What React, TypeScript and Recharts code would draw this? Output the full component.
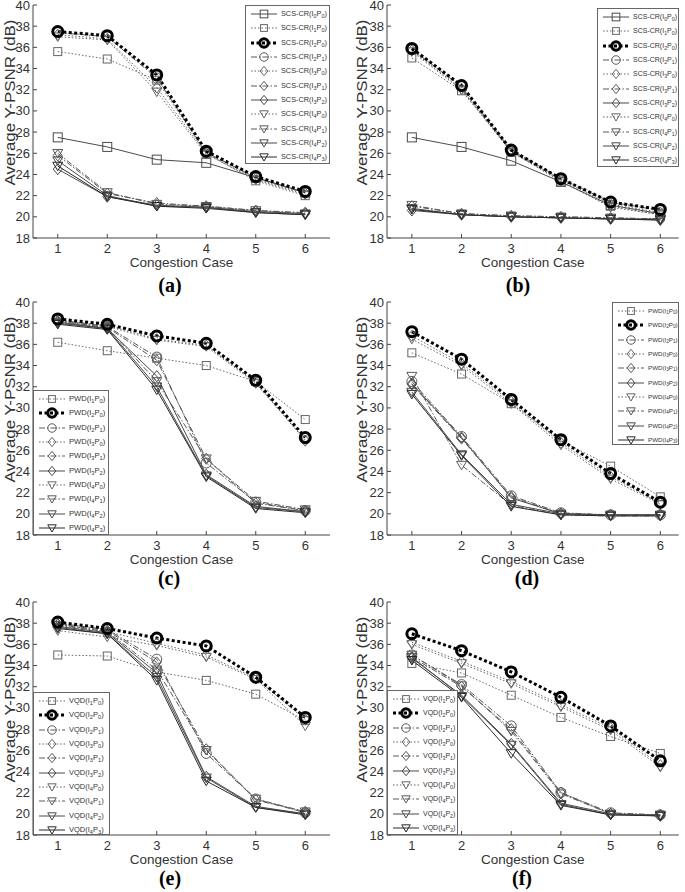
import React from 'react';
import { LineChart, Line, XAxis, YAxis, Legend, Label } from 'recharts';

const SANS = '"Liberation Sans", Arial, Helvetica, sans-serif';
const SERIF = '"Liberation Serif", "Times New Roman", serif';
const AXIS = '#444';
const TEXT = '#333';

const CASES = [1, 2, 3, 4, 5, 6];
const Y_TICKS = [18, 20, 22, 24, 26, 28, 30, 32, 34, 36, 38, 40];
const X_TITLE = 'Congestion Case';
const Y_TITLE = 'Average Y-PSNR (dB)';
const KEYS_SCS = ['I0P0', 'I1P0', 'I2P0', 'I2P1', 'I3P0', 'I3P1', 'I3P2', 'I4P0', 'I4P1', 'I4P2', 'I4P3'];
const KEYS_10 = ['I1P0', 'I2P0', 'I2P1', 'I3P0', 'I3P1', 'I3P2', 'I4P0', 'I4P1', 'I4P2', 'I4P3'];

// (a) SCS-CR
const a_I0P0 = [27.5, 26.6, 25.4, 25.1, 23.7, 22.3];
const a_I1P0 = [35.6, 34.9, 32.9, 26.0, 23.4, 22.0];
const a_I2P0 = [37.5, 37.1, 33.4, 26.2, 23.8, 22.4];
const a_I2P1 = [37.4, 37.0, 33.1, 26.1, 23.7, 22.3];
const a_I3P0 = [37.2, 36.8, 32.2, 26.0, 23.6, 22.2];
const a_I3P1 = [25.8, 22.2, 21.3, 21.0, 20.6, 20.4];
const a_I3P2 = [24.5, 21.9, 21.1, 20.9, 20.5, 20.3];
const a_I4P0 = [37.0, 36.7, 31.8, 25.9, 23.5, 22.1];
const a_I4P1 = [26.0, 22.3, 21.2, 21.0, 20.6, 20.3];
const a_I4P2 = [25.3, 22.0, 21.0, 20.9, 20.4, 20.2];
const a_I4P3 = [24.8, 21.9, 21.0, 20.8, 20.4, 20.2];

// (b) SCS-CR
const b_I0P0 = [27.5, 26.6, 25.3, 23.3, 21.1, 20.3];
const b_I1P0 = [35.0, 31.9, 26.2, 23.3, 21.0, 20.2];
const b_I2P0 = [35.9, 32.4, 26.3, 23.6, 21.4, 20.7];
const b_I2P1 = [35.8, 32.3, 26.3, 23.6, 21.4, 20.6];
const b_I3P0 = [35.7, 32.1, 26.2, 23.5, 21.2, 20.4];
const b_I3P1 = [21.0, 20.3, 20.1, 20.0, 19.9, 19.8];
const b_I3P2 = [20.6, 20.2, 20.0, 19.9, 19.8, 19.7];
const b_I4P0 = [35.6, 32.0, 26.1, 23.4, 20.9, 20.2];
const b_I4P1 = [21.1, 20.3, 20.1, 20.0, 19.9, 19.8];
const b_I4P2 = [20.8, 20.2, 20.0, 19.9, 19.8, 19.8];
const b_I4P3 = [20.7, 20.2, 20.0, 19.9, 19.8, 19.7];

// (c) PWD
const c_I1P0 = [36.2, 35.4, 34.7, 34.0, 32.5, 28.9];
const c_I2P0 = [38.4, 37.9, 36.8, 36.1, 32.6, 27.2];
const c_I2P1 = [38.3, 37.7, 34.8, 24.8, 21.1, 20.3];
const c_I3P0 = [38.2, 37.8, 36.5, 35.9, 32.4, 26.9];
const c_I3P1 = [38.2, 37.6, 34.5, 25.2, 21.0, 20.3];
const c_I3P2 = [38.1, 37.5, 33.0, 23.7, 20.7, 20.2];
const c_I4P0 = [38.1, 37.7, 36.4, 35.8, 32.3, 27.0];
const c_I4P1 = [38.0, 37.6, 32.5, 25.2, 21.2, 20.4];
const c_I4P2 = [38.0, 37.5, 32.0, 23.6, 20.6, 20.2];
const c_I4P3 = [37.9, 37.4, 31.7, 23.5, 20.5, 20.1];

// (d) PWD
const d_I1P0 = [35.2, 33.2, 30.4, 26.9, 24.5, 21.6];
const d_I2P0 = [37.2, 34.6, 30.8, 27.0, 23.8, 21.1];
const d_I2P1 = [32.5, 27.3, 21.7, 20.1, 19.9, 19.9];
const d_I3P0 = [36.8, 34.2, 30.6, 26.7, 23.5, 21.0];
const d_I3P1 = [32.2, 27.1, 21.6, 20.0, 19.9, 19.9];
const d_I3P2 = [32.3, 27.2, 21.5, 20.0, 19.9, 19.9];
const d_I4P0 = [36.5, 34.0, 30.4, 26.5, 23.3, 20.9];
const d_I4P1 = [33.0, 24.6, 20.8, 19.9, 19.8, 19.8];
const d_I4P2 = [31.5, 25.6, 20.9, 20.0, 19.9, 19.9];
const d_I4P3 = [31.3, 25.5, 20.7, 19.9, 19.8, 19.8];

// (e) VQD
const e_I1P0 = [35.0, 34.9, 33.4, 32.6, 31.3, 28.8];
const e_I2P0 = [38.1, 37.5, 36.6, 35.85, 32.9, 29.1];
const e_I2P1 = [38.0, 37.4, 34.6, 25.7, 21.4, 20.1];
const e_I3P0 = [37.9, 37.2, 36.1, 35.0, 32.8, 28.9];
const e_I3P1 = [37.9, 37.3, 34.3, 26.1, 21.3, 20.2];
const e_I3P2 = [37.7, 37.1, 33.3, 23.5, 20.7, 20.0];
const e_I4P0 = [37.3, 36.7, 35.9, 34.8, 32.7, 28.3];
const e_I4P1 = [37.8, 37.2, 33.6, 26.0, 21.4, 20.2];
const e_I4P2 = [37.6, 37.0, 32.9, 23.4, 20.6, 20.0];
const e_I4P3 = [37.5, 37.0, 32.6, 23.1, 20.6, 19.9];

// (f) VQD
const f_I1P0 = [34.2, 33.3, 31.2, 29.1, 27.3, 25.7];
const f_I2P0 = [37.0, 35.4, 33.4, 31.0, 28.3, 25.0];
const f_I2P1 = [35.0, 32.2, 28.3, 22.0, 20.1, 19.9];
const f_I3P0 = [36.2, 34.4, 32.5, 30.3, 28.1, 24.6];
const f_I3P1 = [34.8, 32.0, 28.0, 22.0, 20.0, 19.9];
const f_I3P2 = [34.7, 31.2, 26.6, 21.0, 20.0, 19.8];
const f_I4P0 = [36.0, 34.2, 32.3, 30.1, 27.9, 24.4];
const f_I4P1 = [35.0, 32.1, 27.8, 21.9, 20.0, 19.8];
const f_I4P2 = [34.8, 31.1, 26.5, 20.9, 19.9, 19.9];
const f_I4P3 = [34.5, 31.0, 25.7, 20.8, 19.9, 19.8];

const DOT = '1.5 2';
const DASHDOT = '6 2 1.5 2';

const SERIES_STYLE: Record<string, any> = {
  I0P0: { dash: undefined, shape: 'square', color: '#4a4a4a', width: 1, size: 9, msw: 1 },
  I1P0: { dash: DOT, shape: 'square', color: '#666', width: 1, size: 8, msw: 1 },
  I2P0: { dash: '3 2.5', shape: 'circle', color: '#000', width: 3, size: 10, msw: 3 },
  I2P1: { dash: DASHDOT, shape: 'circle', color: '#5a5a5a', width: 1, size: 10, msw: 1 },
  I3P0: { dash: DOT, shape: 'diamond', color: '#666', width: 1, size: 10, msw: 1 },
  I3P1: { dash: DASHDOT, shape: 'diamond', color: '#5a5a5a', width: 1, size: 10, msw: 1 },
  I3P2: { dash: undefined, shape: 'diamond', color: '#4a4a4a', width: 1, size: 10, msw: 1 },
  I4P0: { dash: DOT, shape: 'triangle', color: '#666', width: 1, size: 10, msw: 1 },
  I4P1: { dash: DASHDOT, shape: 'triangle', color: '#5a5a5a', width: 1, size: 10, msw: 1 },
  I4P2: { dash: undefined, shape: 'triangle', color: '#4a4a4a', width: 1, size: 10, msw: 1 },
  I4P3: { dash: undefined, shape: 'triangle', color: '#2a2a2a', width: 1, size: 10, msw: 1 },
};

function buildRows(series: Record<string, number[]>) {
  return CASES.map((c, i) => {
    const row: any = { x: c };
    Object.keys(series).forEach((k) => { row[k] = series[k][i]; });
    return row;
  });
}

function Marker({ shape, cx, cy, size, stroke, sw }: any) {
  const h = size / 2;
  const common = { fill: 'none', stroke, strokeWidth: sw };
  if (shape === 'square') return <rect x={cx - h} y={cy - h} width={size} height={size} {...common} />;
  if (shape === 'circle') return <circle cx={cx} cy={cy} r={h} {...common} />;
  if (shape === 'diamond') return <polygon points={`${cx},${cy - h * 1.1} ${cx + h * 0.9},${cy} ${cx},${cy + h * 1.1} ${cx - h * 0.9},${cy}`} {...common} />;
  return <polygon points={`${cx - h},${cy - h * 0.75} ${cx + h},${cy - h * 0.75} ${cx},${cy + h * 0.95}`} {...common} />;
}

const subStyle: any = { fontSize: '75%', verticalAlign: '-0.3em', lineHeight: 0 };
function seriesLabel(prefix: string, key: string) {
  return (
    <span>{prefix}(I<sub style={subStyle}>{key[1]}</sub>P<sub style={subStyle}>{key[3]}</sub>)</span>
  );
}

function LegendBox({ keys, prefix, fontSize }: any) {
  return (
    <div style={{ width: '100%', height: '100%', boxSizing: 'border-box', border: '1px solid #666', background: '#fff', paddingTop: 1, overflow: 'hidden' }}>
      {keys.map((k: string) => {
        const s = SERIES_STYLE[k];
        return (
          <div key={k} style={{ display: 'flex', alignItems: 'center', height: 14.3 }}>
            <svg width={34} height={14} style={{ flex: 'none', display: 'block' }}>
              <line x1={5} x2={31} y1={7} y2={7} stroke={s.color} strokeWidth={s.width} strokeDasharray={s.dash} />
              <Marker shape={s.shape} cx={18} cy={7} size={s.size * 0.85} stroke={s.color} sw={s.msw} />
            </svg>
            <span style={{ fontFamily: SANS, fontSize, color: TEXT, whiteSpace: 'nowrap', marginLeft: 1, lineHeight: '14px' }}>{seriesLabel(prefix, k)}</span>
          </div>
        );
      })}
    </div>
  );
}

const BottomTick = (props: any) => {
  const { x, y, payload } = props;
  return (
    <g>
      <line x1={x} x2={x} y1={y} y2={y - 4} stroke={AXIS} />
      <text x={x} y={y + 14.5} textAnchor="middle" fontSize={13} fill={TEXT} fontFamily={SANS}>{payload.value}</text>
    </g>
  );
};
const TopTick = (props: any) => {
  const { x, y } = props;
  return <line x1={x} x2={x} y1={y} y2={y + 4} stroke={AXIS} />;
};
const LeftTick = (props: any) => {
  const { x, y, payload } = props;
  return (
    <g>
      <line x1={x} x2={x + 4} y1={y} y2={y} stroke={AXIS} />
      <text x={x - 3} y={y + 4.5} textAnchor="end" fontSize={13} fill={TEXT} fontFamily={SANS}>{payload.value}</text>
    </g>
  );
};
const RightTick = (props: any) => {
  const { x, y } = props;
  return <line x1={x} x2={x - 4} y1={y} y2={y} stroke={AXIS} />;
};

const PANELS = [
  { id: 'a', left: 0, top: 0, width: 345, height: 300, plotTop: 5, plotLeft: 33, plotRight: 330, xMax: 6.5, titleX: 15, prefix: 'SCS-CR', keys: KEYS_SCS,
    series: { I0P0: a_I0P0, I1P0: a_I1P0, I2P0: a_I2P0, I2P1: a_I2P1, I3P0: a_I3P0, I3P1: a_I3P1, I3P2: a_I3P2, I4P0: a_I4P0, I4P1: a_I4P1, I4P2: a_I4P2, I4P3: a_I4P3 },
    legend: { left: 245, top: 5, width: 85, height: 159, fontSize: 7.3 }, tag: '(a)', tagX: 170, tagY: 284 },
  { id: 'b', left: 345, top: 0, width: 340, height: 300, plotTop: 5, plotLeft: 42, plotRight: 333.7, xMax: 6.37, titleX: 22, prefix: 'SCS-CR', keys: KEYS_SCS,
    series: { I0P0: b_I0P0, I1P0: b_I1P0, I2P0: b_I2P0, I2P1: b_I2P1, I3P0: b_I3P0, I3P1: b_I3P1, I3P2: b_I3P2, I4P0: b_I4P0, I4P1: b_I4P1, I4P2: b_I4P2, I4P3: b_I4P3 },
    legend: { left: 252, top: 8, width: 82, height: 159, fontSize: 7.0 }, tag: '(b)', tagX: 518, tagY: 284 },
  { id: 'c', left: 0, top: 292, width: 345, height: 305, plotTop: 10, plotLeft: 33, plotRight: 330, xMax: 6.5, titleX: 15, prefix: 'PWD', keys: KEYS_10,
    series: { I1P0: c_I1P0, I2P0: c_I2P0, I2P1: c_I2P1, I3P0: c_I3P0, I3P1: c_I3P1, I3P2: c_I3P2, I4P0: c_I4P0, I4P1: c_I4P1, I4P2: c_I4P2, I4P3: c_I4P3 },
    legend: { left: 33, top: 98, width: 76, height: 145, fontSize: 7.6 }, tag: '(c)', tagX: 169, tagY: 577 },
  { id: 'd', left: 345, top: 292, width: 340, height: 305, plotTop: 10, plotLeft: 42, plotRight: 333.7, xMax: 6.37, titleX: 22, prefix: 'PWD', keys: KEYS_10,
    series: { I1P0: d_I1P0, I2P0: d_I2P0, I2P1: d_I2P1, I3P0: d_I3P0, I3P1: d_I3P1, I3P2: d_I3P2, I4P0: d_I4P0, I4P1: d_I4P1, I4P2: d_I4P2, I4P3: d_I4P3 },
    legend: { left: 267, top: 10, width: 67, height: 143, fontSize: 6.2 }, tag: '(d)', tagX: 527, tagY: 577 },
  { id: 'e', left: 0, top: 592, width: 345, height: 295, plotTop: 10, plotLeft: 33, plotRight: 330, xMax: 6.5, titleX: 15, prefix: 'VQD', keys: KEYS_10,
    series: { I1P0: e_I1P0, I2P0: e_I2P0, I2P1: e_I2P1, I3P0: e_I3P0, I3P1: e_I3P1, I3P2: e_I3P2, I4P0: e_I4P0, I4P1: e_I4P1, I4P2: e_I4P2, I4P3: e_I4P3 },
    legend: { left: 33, top: 100, width: 77, height: 143, fontSize: 7.5 }, tag: '(e)', tagX: 170, tagY: 877 },
  { id: 'f', left: 345, top: 592, width: 340, height: 295, plotTop: 10, plotLeft: 42, plotRight: 333.7, xMax: 6.37, titleX: 22, prefix: 'VQD', keys: KEYS_10,
    series: { I1P0: f_I1P0, I2P0: f_I2P0, I2P1: f_I2P1, I3P0: f_I3P0, I3P1: f_I3P1, I3P2: f_I3P2, I4P0: f_I4P0, I4P1: f_I4P1, I4P2: f_I4P2, I4P3: f_I4P3 },
    legend: { left: 42, top: 98, width: 71, height: 145, fontSize: 7.0 }, tag: '(f)', tagX: 522, tagY: 877 },
];

function Panel({ cfg }: any) {
  const { left, top, width, height, plotTop, plotLeft, plotRight, xMax, titleX, prefix, keys, series, legend } = cfg;
  const rows = buildRows(series);
  const plotBottom = plotTop + 233;
  const xAxisH = height - plotBottom;
  const drawKeys = [...keys.filter((k: string) => k !== 'I2P0'), 'I2P0'];
  const xTitle = () => (
    <text x={(plotLeft + plotRight) / 2} y={plotBottom + 28.5} textAnchor="middle" fontSize={13.5} fill={TEXT} fontFamily={SANS}>{X_TITLE}</text>
  );
  const cy = (plotTop + plotBottom) / 2 - 19;
  const yTitle = () => (
    <text x={titleX} y={cy} transform={`rotate(-90, ${titleX}, ${cy})`} textAnchor="middle" fontSize={15} fill={TEXT} fontFamily={SANS} textLength={166} lengthAdjust="spacingAndGlyphs">{Y_TITLE}</text>
  );
  return (
    <div style={{ position: 'absolute', left, top, width, height }}>
      <LineChart width={width} height={height} data={rows} margin={{ top: plotTop, right: width - plotRight, bottom: 0, left: 0 }}>
        <XAxis dataKey="x" type="number" domain={[0.5, xMax]} ticks={CASES} allowDataOverflow interval={0} height={xAxisH} tickSize={0} tickMargin={0} tickLine={false} axisLine={{ stroke: AXIS }} tick={BottomTick}>
          <Label content={xTitle} />
        </XAxis>
        <XAxis xAxisId="top" orientation="top" dataKey="x" type="number" domain={[0.5, xMax]} ticks={CASES} allowDataOverflow interval={0} height={0} tickSize={0} tickMargin={0} tickLine={false} axisLine={{ stroke: AXIS }} tick={TopTick} />
        <YAxis type="number" domain={[18, 40]} ticks={Y_TICKS} allowDataOverflow interval={0} width={plotLeft} tickSize={0} tickMargin={0} tickLine={false} axisLine={{ stroke: AXIS }} tick={LeftTick}>
          <Label content={yTitle} />
        </YAxis>
        <YAxis yAxisId="right" orientation="right" type="number" domain={[18, 40]} ticks={Y_TICKS} allowDataOverflow interval={0} width={0} tickSize={0} tickMargin={0} tickLine={false} axisLine={{ stroke: AXIS }} tick={RightTick} />
        {drawKeys.map((k: string) => {
          const s = SERIES_STYLE[k];
          return (
            <Line
              key={k}
              dataKey={k}
              type="linear"
              stroke={s.color}
              strokeWidth={s.width}
              strokeDasharray={s.dash}
              isAnimationActive={false}
              activeDot={false}
              dot={(p: any) => <Marker key={`${k}-${p.index}`} shape={s.shape} cx={p.cx} cy={p.cy} size={s.size} stroke={s.color} sw={s.msw} />}
            />
          );
        })}
        <Legend
          layout="horizontal"
          verticalAlign="middle"
          align="center"
          width={legend.width}
          height={legend.height}
          wrapperStyle={{ position: 'absolute', left: legend.left, top: legend.top, width: legend.width, height: legend.height, margin: 0, padding: 0 }}
          content={() => <LegendBox keys={keys} prefix={prefix} fontSize={legend.fontSize} />}
        />
      </LineChart>
    </div>
  );
}

export default function App() {
  return (
    <div style={{ position: 'absolute', left: 0, top: 0, width: 685, height: 892, background: '#fff', overflow: 'hidden' }}>
      {PANELS.map((p) => <Panel key={p.id} cfg={p} />)}
      {PANELS.map((p) => (
        <div key={`tag-${p.id}`} style={{ position: 'absolute', left: p.tagX - 30, top: p.tagY - 9, width: 60, textAlign: 'center', fontFamily: SERIF, fontWeight: 'bold', fontSize: 20, lineHeight: '20px', color: '#000' }}>{p.tag}</div>
      ))}
    </div>
  );
}
